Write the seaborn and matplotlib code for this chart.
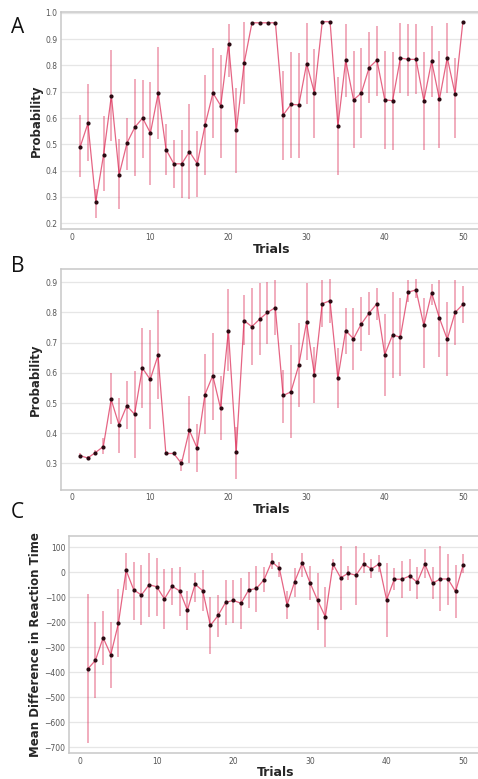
import numpy as np
import matplotlib
matplotlib.use("Agg")
import matplotlib.pyplot as plt
import seaborn as sns

# Trial index shared by all three panels
trials = list(range(1, 51))

# Panel A: choice probability per trial (mean with confidence interval)
prob_a = [0.49, 0.58, 0.28, 0.46, 0.685, 0.385, 0.505, 0.565, 0.60, 0.543,
          0.695, 0.48, 0.426, 0.426, 0.472, 0.426, 0.574, 0.695, 0.647, 0.883,
          0.553, 0.809, 0.962, 0.962, 0.962, 0.962, 0.612, 0.652, 0.650, 0.807,
          0.695, 0.966, 0.966, 0.570, 0.820, 0.669, 0.695, 0.792, 0.820, 0.669,
          0.666, 0.828, 0.823, 0.823, 0.666, 0.816, 0.671, 0.830, 0.691, 0.966]
prob_a_lo = [0.375, 0.435, 0.22, 0.322, 0.511, 0.253, 0.404, 0.379, 0.45, 0.347,
             0.52, 0.385, 0.335, 0.297, 0.294, 0.30, 0.385, 0.524, 0.448, 0.757,
             0.392, 0.652, 0.962, 0.962, 0.962, 0.962, 0.442, 0.45, 0.45, 0.652,
             0.526, 0.966, 0.966, 0.385, 0.681, 0.486, 0.524, 0.656, 0.685, 0.483,
             0.48, 0.694, 0.685, 0.69, 0.48, 0.681, 0.486, 0.694, 0.524, 0.966]
prob_a_hi = [0.612, 0.728, 0.33, 0.608, 0.86, 0.52, 0.602, 0.75, 0.745, 0.738,
             0.87, 0.577, 0.517, 0.555, 0.652, 0.551, 0.763, 0.866, 0.841, 0.958,
             0.713, 0.965, 0.962, 0.962, 0.962, 0.962, 0.779, 0.851, 0.847, 0.962,
             0.864, 0.966, 0.966, 0.757, 0.958, 0.854, 0.866, 0.927, 0.949, 0.854,
             0.851, 0.962, 0.958, 0.958, 0.851, 0.948, 0.854, 0.962, 0.828, 0.966]

# Panel B: choice probability per trial
prob_b = [0.326, 0.318, 0.336, 0.356, 0.512, 0.428, 0.491, 0.463, 0.616, 0.578,
          0.658, 0.333, 0.333, 0.30, 0.410, 0.351, 0.528, 0.591, 0.482, 0.740,
          0.338, 0.773, 0.753, 0.778, 0.80, 0.816, 0.525, 0.537, 0.625, 0.768,
          0.594, 0.829, 0.839, 0.582, 0.740, 0.713, 0.762, 0.798, 0.829, 0.66,
          0.726, 0.718, 0.867, 0.875, 0.757, 0.865, 0.781, 0.711, 0.80, 0.827]
prob_b_lo = [0.318, 0.312, 0.328, 0.33, 0.429, 0.336, 0.413, 0.319, 0.484, 0.415,
             0.512, 0.333, 0.333, 0.274, 0.30, 0.27, 0.396, 0.445, 0.376, 0.605,
             0.247, 0.693, 0.627, 0.66, 0.695, 0.726, 0.435, 0.385, 0.486, 0.644,
             0.50, 0.753, 0.765, 0.482, 0.662, 0.61, 0.671, 0.726, 0.776, 0.522,
             0.583, 0.588, 0.836, 0.847, 0.616, 0.825, 0.654, 0.588, 0.693, 0.765]
prob_b_hi = [0.334, 0.324, 0.344, 0.385, 0.60, 0.517, 0.572, 0.607, 0.748, 0.743,
             0.809, 0.333, 0.333, 0.313, 0.522, 0.429, 0.662, 0.732, 0.588, 0.878,
             0.42, 0.858, 0.882, 0.897, 0.902, 0.908, 0.61, 0.693, 0.765, 0.897,
             0.687, 0.908, 0.911, 0.682, 0.816, 0.816, 0.852, 0.869, 0.882, 0.794,
             0.869, 0.847, 0.908, 0.911, 0.847, 0.893, 0.908, 0.836, 0.908, 0.886]

# Panel C: mean difference in reaction time per trial (ms)
rt_c = [-387, -352, -262, -330, -204, 8, -71, -91, -50, -58,
        -107, -56, -75, -152, -48, -74, -213, -173, -120, -113,
        -124, -71, -65, -30, 42, 16, -131, -38, 38, -42,
        -113, -178, 33, -22, -4, -12, 33, 13, 33, -111,
        -28, -28, -15, -40, 33, -44, -27, -27, -77, 30]
rt_c_lo = [-684, -504, -371, -464, -338, -71, -191, -211, -178, -175,
           -228, -131, -175, -231, -118, -155, -328, -258, -211, -202,
           -228, -144, -158, -81, 12, -18, -188, -98, -18, -111,
           -231, -298, 9, -151, -31, -131, -2, -24, 2, -258,
           -71, -104, -77, -108, -24, -108, -155, -131, -184, -4]
rt_c_hi = [-88, -198, -155, -198, -68, 78, 42, 29, 76, 56,
           12, 16, 22, -75, -2, 9, -98, -91, -31, -31,
           -22, 2, 25, 20, 76, 42, -77, 16, 78, 25,
           -2, -58, 52, 105, 25, 105, 76, 52, 69, 36,
           16, 46, 52, 22, 92, 22, 103, 73, 29, 73]

x_ticks = [0, 10, 20, 30, 40, 50]
y_ticks_a = [0.2, 0.3, 0.4, 0.5, 0.6, 0.7, 0.8, 0.9, 1.0]
y_ticks_b = [0.3, 0.4, 0.5, 0.6, 0.7, 0.8, 0.9]
y_ticks_c = [-700, -600, -500, -400, -300, -200, -100, 0, 100]

sns.set_style("whitegrid")
plt.rcParams["font.family"] = ["DejaVu Sans"]

LINE = "#dc2a55"
DOT = "#2a0a12"

fig = plt.figure(figsize=(4.78, 7.79), dpi=100)

panels = [
    dict(rect=[0.1276, 0.7056, 0.8808, 0.279], m=prob_a, lo=prob_a_lo, hi=prob_a_hi,
         yt=y_ticks_a, ylim=(0.177, 1.003), ylabel="Probability", fmt="{:.1f}"),
    dict(rect=[0.127, 0.371, 0.8815, 0.2837], m=prob_b, lo=prob_b_lo, hi=prob_b_hi,
         yt=y_ticks_b, ylim=(0.212, 0.944), ylabel="Probability", fmt="{:.1f}"),
    dict(rect=[0.1444, 0.033, 0.864, 0.2793], m=rt_c, lo=rt_c_lo, hi=rt_c_hi,
         yt=y_ticks_c, ylim=(-724, 146), ylabel="Mean Difference in Reaction Time",
         fmt="{:d}"),
]

for p in panels:
    ax = fig.add_axes(p["rect"])
    ax.vlines(trials, p["lo"], p["hi"], color=LINE, alpha=0.42, lw=1.3, zorder=2)
    sns.lineplot(x=trials, y=p["m"], ax=ax, color=LINE, alpha=0.72, lw=0.9, zorder=3)
    sns.scatterplot(x=trials, y=p["m"], ax=ax, color=DOT, s=9, linewidth=0, zorder=4)
    ax.set_xlim(-1.45, 52.45)
    ax.set_ylim(*p["ylim"])
    ax.set_xticks(x_ticks)
    ax.set_yticks(p["yt"])
    labels = []
    for v in p["yt"]:
        s = p["fmt"].format(int(v)) if p["fmt"] == "{:d}" else p["fmt"].format(v)
        labels.append(s.replace("-", "\u2212"))
    ax.set_yticklabels(labels)
    ax.grid(axis="x", visible=False)
    ax.grid(axis="y", color="#e6e6e6", lw=0.9)
    ax.tick_params(axis="both", labelsize=5.5, colors="#555555", pad=2.5, length=0)
    for sp in ax.spines.values():
        sp.set_color("#c8c8c8")
        sp.set_linewidth(1.1)
    ax.spines["right"].set_visible(False)
    ax.set_xlabel("Trials", fontsize=9, fontweight="bold", labelpad=0.5)
    ax.set_ylabel(p["ylabel"], fontsize=8.5, fontweight="bold", labelpad=2)

for letter, ypix in [("A", 33), ("B", 272), ("C", 518)]:
    fig.text(11 / 478, 1 - ypix / 779, letter, fontsize=15, color="#111111",
             ha="left", va="baseline", family=["Open Sans", "DejaVu Sans"])

fig.savefig("out.png", dpi=100)
